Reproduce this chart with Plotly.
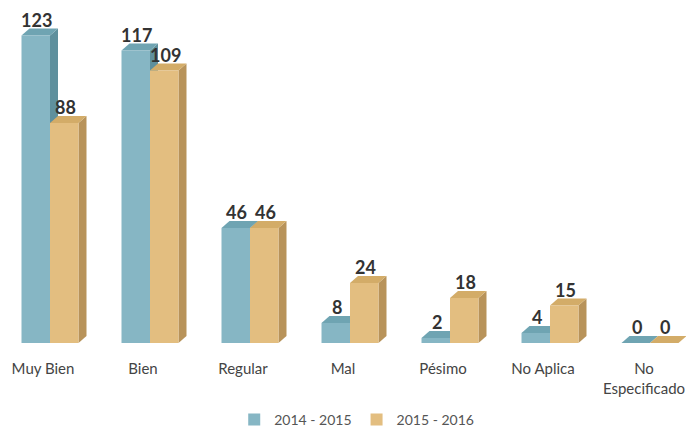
import plotly.graph_objects as go

categories = ["Muy Bien", "Bien", "Regular", "Mal", "Pésimo", "No Aplica", "No<br>Especificado"]
series_names = ["2014 - 2015", "2015 - 2016"]
values_2014 = [123, 117, 46, 8, 2, 4, 0]
values_2015 = [88, 109, 46, 24, 18, 15, 0]

front_colors = ["#86b6c4", "#e3be80"]
side_colors = ["#5f909d", "#b8935a"]
top_colors = ["#6fa4b2", "#d3ac68"]

W = 0.285          # bar width (category units)
DX = 0.08          # depth offset in x (category units)
DY = 2.8           # depth offset in y (value units)
offsets = [-W, 0.0]

fig = go.Figure()
shapes = []
annotations = []
xs = list(range(len(categories)))

for s, (name, vals) in enumerate(zip(series_names, [values_2014, values_2015])):
    off = offsets[s]
    fig.add_trace(go.Bar(
        x=xs, y=vals, name=name, width=W, offset=off,
        marker=dict(color=front_colors[s], line=dict(width=0)),
        hoverinfo="skip",
    ))
    for i, v in zip(xs, vals):
        x0 = i + off
        x1 = x0 + W
        shapes.append(dict(
            type="path", xref="x", yref="y", layer="below",
            path=f"M {x1},0 L {x1+DX},{DY} L {x1+DX},{v+DY} L {x1},{v} Z",
            fillcolor=side_colors[s], line=dict(width=0),
        ))
        shapes.append(dict(
            type="path", xref="x", yref="y", layer="below",
            path=f"M {x0},{v} L {x0+DX},{v+DY} L {x1+DX},{v+DY} L {x1},{v} Z",
            fillcolor=top_colors[s], line=dict(width=0),
        ))
        annotations.append(dict(
            x=x0 + W / 2 + 0.01, y=v, xref="x", yref="y",
            text=f"<b>{v}</b>", showarrow=False, yanchor="middle", yshift=16,
            font=dict(family="Lato, Open Sans, sans-serif", size=18, color="#333333"),
        ))

fig.update_layout(
    width=686, height=428,
    margin=dict(l=0, r=0, t=0, b=85),
    barmode="overlay",
    paper_bgcolor="white", plot_bgcolor="rgba(0,0,0,0)",
    shapes=shapes, annotations=annotations,
    showlegend=True,
    legend=dict(
        orientation="h", xref="container", yref="container",
        x=0.52, xanchor="center", y=0.019, yanchor="middle",
        font=dict(family="Lato, Open Sans, sans-serif", size=14, color="#555555"),
        itemwidth=30, tracegroupgap=0,
    ),
    font=dict(family="Lato, Open Sans, sans-serif"),
)
fig.update_xaxes(
    range=[-0.5, 6.36], showgrid=False, zeroline=False, showline=False,
    automargin=False,
    tickmode="array", tickvals=[i - 0.07 for i in xs[:-1]] + [5.94], ticktext=categories,
    ticks="outside", ticklen=12, tickcolor="rgba(0,0,0,0)",
    tickfont=dict(family="Lato, Open Sans, sans-serif", size=15, color="#444444"),
    tickangle=0,
)
fig.update_yaxes(range=[0, 137.2], visible=False, showgrid=False, zeroline=False,
                 automargin=False)

fig.write_html(
    "out.html", config={"displayModeBar": False},
    post_script="document.body.style.margin='0';",
)
